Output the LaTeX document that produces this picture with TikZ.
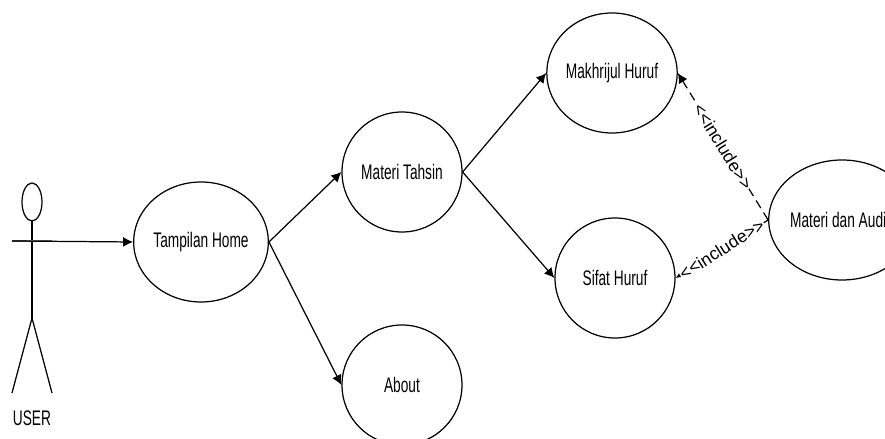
\documentclass[tikz,border=0pt]{standalone}
\usepackage{fontspec}
\setmainfont{Liberation Sans}[FakeStretch=0.65]
\newfontfamily\inclfont{Liberation Sans}
\usetikzlibrary{shapes.geometric,arrows.meta}

\begin{document}
\begin{tikzpicture}[
		usecase/.style={draw,ellipse,line width=0.7pt,inner sep=0pt,minimum width=2.4cm,minimum height=2.4cm,font=\fontsize{12}{14}\selectfont},
		assoc/.style={line width=0.7pt,-{Latex[length=2mm,width=2mm]}},
		incl/.style={line width=0.7pt,dash pattern=on 5pt off 3pt,-{Latex[length=2mm,width=2mm]}},
		incllabel/.style={sloped,midway,fill=white,inner sep=0.5pt,font=\inclfont\fontsize{10}{12}\selectfont}
	]
		\useasboundingbox (0,0) rectangle (17.7,8.78);
	
		% actor
		\draw[line width=0.7pt] (0.64,4.74) ellipse (0.2 and 0.38);
		\draw[line width=0.7pt] (0.64,4.36) -- (0.64,2.42);
		\draw[line width=1.2pt,black!60] (0.24,3.96) -- (1.04,3.96);
		\draw[line width=0.7pt] (0.24,0.92) -- (0.64,2.42) -- (1.04,0.92);
		\node (userlabel) at (0.64,0.42) {\fontsize{12}{14}\selectfont USER};
		\coordinate (user) at (0.24,3.96);
		
		% use cases
		\node[usecase] (home) at (4.02,3.94) {Tampilan Home};
		\node[usecase] (tahsin) at (8.04,5.34) {Materi Tahsin};
		\node[usecase] (about) at (8.04,1.08) {About};
		\node[usecase] (makhrijul) at (12.24,7.32) {Makhrijul Huruf};
		\node[usecase] (sifat) at (12.30,3.22) {Sifat Huruf};
		\node[usecase] (audio) at (16.84,4.38) {Materi dan Audio};
		
		\draw[assoc] (user) -- (home.west);
		\draw[assoc] (home.east) -- (tahsin.west);
		\draw[assoc] (home.east) -- (about.west);
		\draw[assoc] (tahsin.east) -- (makhrijul.west);
		\draw[assoc] (tahsin.east) -- (sifat.west);
		
		\draw[incl] (audio.west) -- node[incllabel] {<{}<include>{}>} (makhrijul.east);
		\draw[incl] (audio.west) -- node[incllabel] {<{}<include>{}>} (sifat.east);
	\end{tikzpicture}
\end{document}
